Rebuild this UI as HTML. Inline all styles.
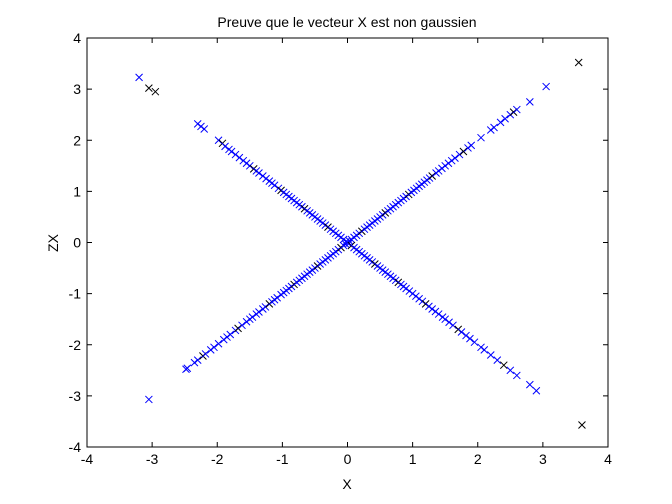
<!DOCTYPE html>
<html><head><meta charset="utf-8"><style>
body{margin:0;background:#fff;}
svg{display:block;font-family:"Liberation Sans",sans-serif;}
</style></head><body>
<svg id="chart" width="672" height="504" viewBox="0 0 672 504">
<rect x="0" y="0" width="672" height="504" fill="#fff"/>
<text x="347" y="27" font-size="14" text-anchor="middle">Preuve que le vecteur X est non gaussien</text>
<text x="347" y="489" font-size="14" text-anchor="middle">X</text>
<text x="0" y="0" font-size="14" text-anchor="middle" transform="translate(58,243) rotate(-90)">ZX</text>
<g id="axes"></g>
<g id="marks"></g>
</svg>
<script>
const xTicks=[-4,-3,-2,-1,0,1,2,3,4];
const yTicks=[-4,-3,-2,-1,0,1,2,3,4];
// points on y = x diagonal (x values)
const diagUpX=[-2.48,-2.46,-2.35,-2.3,-2.22,-2.18,-2.1,-2.05,-1.98,-1.9,-1.85,-1.8,-1.72,-1.68,-1.62,-1.55,-1.5,-1.46,-1.4,-1.36,-1.3,-1.26,-1.2,-1.16,-1.12,-1.08,-1.02,-0.98,-0.94,-0.9,-0.86,-0.82,-0.78,-0.74,-0.7,-0.66,-0.62,-0.58,-0.54,-0.5,-0.46,-0.42,-0.38,-0.34,-0.3,-0.26,-0.22,-0.18,-0.14,-0.1,-0.06,-0.03,0,0.03,0.06,0.1,0.14,0.18,0.22,0.26,0.3,0.34,0.38,0.42,0.46,0.5,0.54,0.58,0.62,0.66,0.7,0.74,0.78,0.82,0.86,0.9,0.94,0.98,1.02,1.06,1.1,1.14,1.18,1.22,1.26,1.3,1.36,1.4,1.45,1.5,1.55,1.6,1.65,1.72,1.78,1.85,1.9,2.05,2.2,2.25,2.35,2.42,2.5,2.55,2.6,2.8,3.05];
const diagUpY=[-2.48,-2.46,-2.35,-2.3,-2.22,-2.18,-2.1,-2.05,-1.98,-1.9,-1.85,-1.8,-1.72,-1.68,-1.62,-1.55,-1.5,-1.46,-1.4,-1.36,-1.3,-1.26,-1.2,-1.16,-1.12,-1.08,-1.02,-0.98,-0.94,-0.9,-0.86,-0.82,-0.78,-0.74,-0.7,-0.66,-0.62,-0.58,-0.54,-0.5,-0.46,-0.42,-0.38,-0.34,-0.3,-0.26,-0.22,-0.18,-0.14,-0.1,-0.06,-0.03,0,0.03,0.06,0.1,0.14,0.18,0.22,0.26,0.3,0.34,0.38,0.42,0.46,0.5,0.54,0.58,0.62,0.66,0.7,0.74,0.78,0.82,0.86,0.9,0.94,0.98,1.02,1.06,1.1,1.14,1.18,1.22,1.26,1.3,1.36,1.4,1.45,1.5,1.55,1.6,1.65,1.72,1.78,1.85,1.9,2.05,2.2,2.25,2.35,2.42,2.5,2.55,2.6,2.75,3.05];
// points on y = -x diagonal
const diagDownX=[-2.3,-2.25,-2.2,-1.98,-1.92,-1.88,-1.82,-1.78,-1.72,-1.66,-1.6,-1.55,-1.5,-1.44,-1.4,-1.36,-1.3,-1.25,-1.2,-1.16,-1.12,-1.06,-1.02,-0.98,-0.94,-0.9,-0.86,-0.82,-0.78,-0.74,-0.7,-0.66,-0.62,-0.58,-0.54,-0.5,-0.46,-0.42,-0.38,-0.34,-0.3,-0.26,-0.22,-0.18,-0.14,-0.1,-0.06,-0.02,0.02,0.06,0.1,0.14,0.18,0.22,0.26,0.3,0.34,0.38,0.42,0.46,0.5,0.54,0.58,0.62,0.66,0.7,0.74,0.78,0.82,0.86,0.9,0.95,1.0,1.05,1.1,1.15,1.2,1.25,1.3,1.35,1.4,1.46,1.5,1.56,1.62,1.7,1.75,1.82,1.88,1.95,2.05,2.1,2.2,2.3,2.4,2.5,2.6,2.8,2.9];
const diagDownY=[2.32,2.27,2.22,2.0,1.94,1.88,1.82,1.78,1.72,1.66,1.6,1.55,1.5,1.44,1.4,1.36,1.3,1.25,1.2,1.16,1.12,1.06,1.02,0.98,0.94,0.9,0.86,0.82,0.78,0.74,0.7,0.66,0.62,0.58,0.54,0.5,0.46,0.42,0.38,0.34,0.3,0.26,0.22,0.18,0.14,0.1,0.06,0.02,-0.02,-0.06,-0.1,-0.14,-0.18,-0.22,-0.26,-0.3,-0.34,-0.38,-0.42,-0.46,-0.5,-0.54,-0.58,-0.62,-0.66,-0.7,-0.74,-0.78,-0.82,-0.86,-0.9,-0.95,-1.0,-1.05,-1.1,-1.15,-1.2,-1.25,-1.3,-1.35,-1.4,-1.46,-1.5,-1.56,-1.62,-1.7,-1.75,-1.82,-1.88,-1.95,-2.05,-2.1,-2.2,-2.3,-2.4,-2.5,-2.6,-2.78,-2.9];
const outlierX=[-3.2,-3.05,-2.95,-3.05,3.55,3.6];
const outlierY=[3.23,3.02,2.95,-3.07,3.52,-3.57];
const outlierColor=["#0000ff","#000","#000","#0000ff","#000","#000"];

const L=87,R=608,T=38,B=447;
const sx=v=>L+(v+4)/8*(R-L);
const sy=v=>B-(v+4)/8*(B-T);
const NS="http://www.w3.org/2000/svg";
const axes=document.getElementById('axes'),marks=document.getElementById('marks');
function mk(tag,attrs,parent){const e=document.createElementNS(NS,tag);for(const k in attrs)e.setAttribute(k,attrs[k]);parent.appendChild(e);return e;}
const frame=mk('rect',{x:L,y:T,width:R-L,height:B-T,fill:'none',stroke:'#000','stroke-width':1},axes);


xTicks.forEach(t=>{
  const x=sx(t);
  const l1=mk('line',{x1:x,x2:x,y1:B,y2:B-5,stroke:'#000'},axes);
  
  
  mk('line',{x1:x,x2:x,y1:T,y2:T+5,stroke:'#000'},axes);
  const tx=mk('text',{x:x,y:B+17,'font-size':14,'text-anchor':'middle'},axes);
  tx.textContent=t;
  
  
});
yTicks.forEach(t=>{
  const y=sy(t);
  const l1=mk('line',{x1:L,x2:L+5,y1:y,y2:y,stroke:'#000'},axes);
  
  
  mk('line',{x1:R,x2:R-5,y1:y,y2:y,stroke:'#000'},axes);
  const tx=mk('text',{x:L-6,y:y+5,'font-size':14,'text-anchor':'end'},axes);
  tx.textContent=t;
  
  
});
function cross(x,y,c){
  const px=sx(x),py=sy(y),s=3.5;
  const p=mk('path',{d:`M${px-s},${py-s}L${px+s},${py+s}M${px-s},${py+s}L${px+s},${py-s}`,stroke:c,'stroke-width':1,fill:'none'},marks);
  
  
}
diagUpX.forEach((x,i)=>cross(x,diagUpY[i],i%9==4?'#000':'#0000ff'));
diagDownX.forEach((x,i)=>cross(x,diagDownY[i],i%9==4?'#000':'#0000ff'));
outlierX.forEach((x,i)=>cross(x,outlierY[i],outlierColor[i]));
</script>
</body></html>
